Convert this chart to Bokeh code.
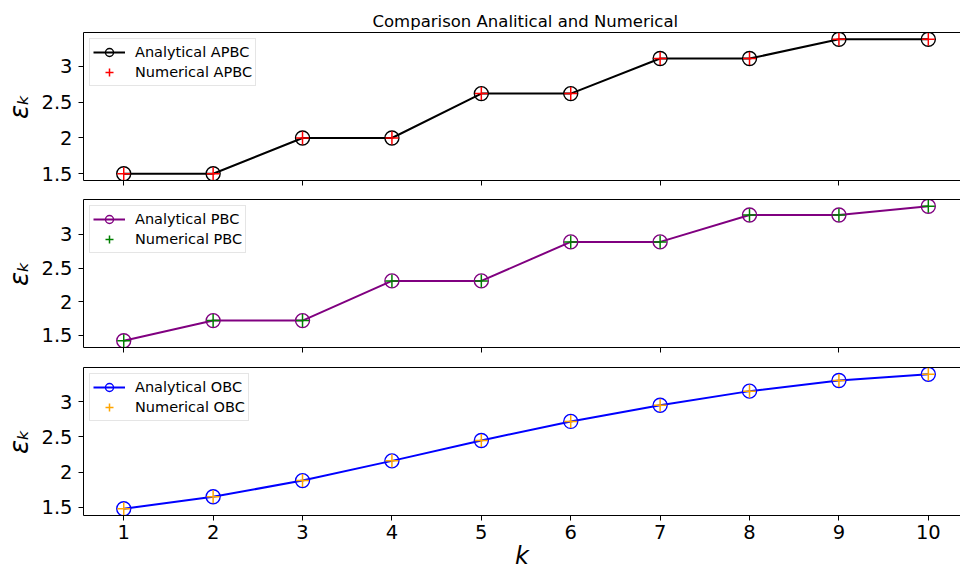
from bokeh.plotting import figure
from bokeh.layouts import column
from bokeh.models import (Range1d, LinearAxis, FixedTicker, CustomJSTickFormatter,
                          Legend, LegendItem)
from bokeh.embed import file_html
from bokeh.resources import INLINE

# Single-particle energies for a ten-site chain under three boundary conditions
k = [1, 2, 3, 4, 5, 6, 7, 8, 9, 10]

apbc_analytical = [1.50, 1.50, 2.00, 2.00, 2.62, 2.62, 3.11, 3.11, 3.38, 3.38]
apbc_numerical = [1.50, 1.50, 2.00, 2.00, 2.62, 2.62, 3.11, 3.11, 3.38, 3.38]

pbc_analytical = [1.42, 1.72, 1.72, 2.31, 2.31, 2.89, 2.89, 3.29, 3.29, 3.42]
pbc_numerical = [1.42, 1.72, 1.72, 2.31, 2.31, 2.89, 2.89, 3.29, 3.29, 3.42]

obc_analytical = [1.48, 1.65, 1.88, 2.16, 2.45, 2.72, 2.95, 3.15, 3.30, 3.39]
obc_numerical = [1.48, 1.65, 1.88, 2.16, 2.45, 2.72, 2.95, 3.15, 3.30, 3.39]

y_ticks = [1.5, 2, 2.5, 3]
odd_ticks = [1, 3, 5, 7, 9]

FONT = "DejaVu Sans"
plain_number = CustomJSTickFormatter(code="return String(tick);")


def style_axis(ax, ticks):
    ax.ticker = FixedTicker(ticks=ticks)
    ax.axis_line_color = "black"
    ax.axis_line_width = 1
    ax.major_tick_line_color = "black"
    ax.major_tick_out = 5
    ax.major_tick_in = 0
    ax.minor_tick_out = 0
    ax.minor_tick_in = 0
    ax.major_label_text_font = FONT
    ax.major_label_text_font_size = "19.5px"
    ax.major_label_text_color = "black"
    ax.axis_label_text_color = "black"
    ax.formatter = plain_number


def hide_labels(ax):
    # keep the spine and tick marks, draw no tick labels
    ax.major_label_text_color = None
    ax.major_label_text_font_size = "1px"
    ax.major_label_standoff = 0


def make_panel(ana, num, ana_color, num_color, tag, height, b_top, b_bottom,
               bottom_ticks, show_x_labels):
    lo, hi = min(ana + num), max(ana + num)
    pad = 0.05 * (hi - lo)
    p = figure(width=960, height=height, output_backend="svg", toolbar_location=None,
               x_range=Range1d(0.55, 10.36), y_range=Range1d(lo - pad, hi + pad),
               min_border_left=83, min_border_right=0,
               min_border_top=b_top, min_border_bottom=b_bottom)
    p.outline_line_color = None
    p.grid.visible = False
    p.background_fill_color = "white"
    p.border_fill_color = "white"

    line = p.line(k, ana, line_color=ana_color, line_width=2)
    circ = p.scatter(k, ana, marker="circle", size=14, fill_color=None,
                     line_color=ana_color, line_width=1.4)
    plus = p.scatter(k, num, marker="cross", size=13, line_color=num_color,
                     line_width=1.5)

    style_axis(p.yaxis[0], y_ticks)
    p.yaxis.major_label_standoff = 6
    p.yaxis.axis_label = "εₖ"
    p.yaxis.axis_label_text_font = FONT
    p.yaxis.axis_label_text_font_style = "italic"
    p.yaxis.axis_label_text_font_size = "26px"
    p.yaxis.axis_label_standoff = 4

    style_axis(p.xaxis[0], bottom_ticks)
    if show_x_labels:
        p.xaxis.major_label_standoff = 4
        p.xaxis.axis_label = "k"
        p.xaxis.axis_label_text_font = FONT
        p.xaxis.axis_label_text_font_style = "italic"
        p.xaxis.axis_label_text_font_size = "24px"
        p.xaxis.axis_label_standoff = 0
    else:
        hide_labels(p.xaxis[0])

    # top spine
    top = LinearAxis(ticker=FixedTicker(ticks=[]), axis_line_color="black",
                     axis_line_width=1, major_tick_out=0, major_tick_in=0,
                     minor_tick_out=0, minor_tick_in=0)
    hide_labels(top)
    p.add_layout(top, "above")

    legend = Legend(items=[LegendItem(label="Analytical " + tag, renderers=[line, circ]),
                           LegendItem(label="Numerical " + tag, renderers=[plus])],
                    location="top_left", margin=6, padding=3, spacing=0,
                    glyph_width=32, glyph_height=20, label_height=20,
                    label_standoff=10, label_text_font=FONT,
                    label_text_font_size="14.5px", label_text_color="black",
                    border_line_color="#cccccc", border_line_width=1,
                    background_fill_color="white", background_fill_alpha=0.8)
    p.add_layout(legend)
    return p


p1 = make_panel(apbc_analytical, apbc_numerical, "black", "red", "APBC",
                190, 32, 10, odd_ticks, False)
p1.title.text = "Comparison Analitical and Numerical"
p1.title.text_font = FONT
p1.title.text_font_size = "16.5px"
p1.title.text_font_style = "normal"
p1.title.text_color = "black"
p1.title.align = "left"
p1.title.offset = 289
p1.title.standoff = 4

p2 = make_panel(pbc_analytical, pbc_numerical, "purple", "green", "PBC",
                167, 9, 10, odd_ticks, False)

p3 = make_panel(obc_analytical, obc_numerical, "blue", "orange", "OBC",
                215, 10, 57, k, True)

layout = column(p1, p2, p3, spacing=0)

open("out.html", "w").write(file_html(layout, INLINE))
